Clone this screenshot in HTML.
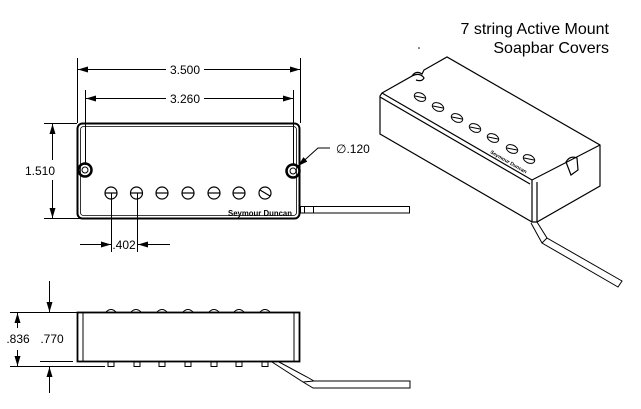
<!DOCTYPE html>
<html><head><meta charset="utf-8"><style>
html,body{margin:0;padding:0;background:#fff;}
svg{display:block;}
text{font-family:"Liberation Sans",Arial,sans-serif;fill:#000;}
</style></head><body>
<svg width="641" height="409" viewBox="0 0 641 409" xmlns="http://www.w3.org/2000/svg">
<defs>
<marker id="a" viewBox="0 0 10 6" refX="10" refY="3" markerWidth="10" markerHeight="6" orient="auto-start-reverse" markerUnits="userSpaceOnUse"><path d="M0,0 L10,3 L0,6 z" fill="#000"/></marker>
</defs>
<g stroke="#000" fill="none" stroke-width="1">
<rect x="77.5" y="123.5" width="222" height="95" rx="5" stroke-width="2"/>
<rect x="80.5" y="126.5" width="216" height="89" rx="3" stroke-width="0.8"/>
<line x1="77.5" y1="58" x2="77.5" y2="123"/>
<line x1="300.5" y1="58" x2="300.5" y2="123"/>
<line x1="78" y1="69.5" x2="168" y2="69.5" marker-start="url(#a)"/>
<line x1="202" y1="69.5" x2="300" y2="69.5" marker-end="url(#a)"/>
<line x1="85.5" y1="90" x2="85.5" y2="165"/>
<line x1="293.5" y1="90" x2="293.5" y2="165"/>
<line x1="86" y1="98.5" x2="168" y2="98.5" marker-start="url(#a)"/>
<line x1="202" y1="98.5" x2="293" y2="98.5" marker-end="url(#a)"/>
<line x1="44" y1="123.5" x2="77" y2="123.5"/>
<line x1="44" y1="218.5" x2="80" y2="218.5"/>
<line x1="52.5" y1="124" x2="52.5" y2="160" marker-start="url(#a)"/>
<line x1="52.5" y1="180" x2="52.5" y2="218" marker-end="url(#a)"/>
<circle cx="85" cy="170" r="6.5" stroke-width="2.5"/><circle cx="85" cy="170" r="3"/>
<circle cx="293" cy="171" r="6.5" stroke-width="2.5"/><circle cx="293" cy="171" r="3"/>
<polyline points="330,148 318,148 298,166" marker-end="url(#a)"/>
<g stroke-width="1.2">
<circle cx="111" cy="193" r="6"/><line x1="105" y1="193" x2="117" y2="193"/>
<circle cx="136.5" cy="193" r="6"/><line x1="130.5" y1="193" x2="142.5" y2="193"/>
<circle cx="162" cy="193" r="6"/><line x1="156" y1="193" x2="168" y2="193"/>
<circle cx="188" cy="193" r="6"/><line x1="182" y1="193" x2="194" y2="193"/>
<circle cx="214" cy="193" r="6"/><line x1="208" y1="193" x2="220" y2="193"/>
<circle cx="239" cy="193" r="6"/><line x1="233" y1="193" x2="245" y2="193"/>
<circle cx="265" cy="193" r="6"/><line x1="260" y1="190" x2="270" y2="196"/>
</g>
<line x1="111.5" y1="193" x2="111.5" y2="252"/>
<line x1="137.5" y1="193" x2="137.5" y2="252"/>
<line x1="80" y1="244.5" x2="111" y2="244.5" marker-end="url(#a)"/>
<line x1="170" y1="244.5" x2="138" y2="244.5" marker-end="url(#a)"/>
<rect x="300.5" y="206.5" width="109" height="6.5"/>
<line x1="304.5" y1="206.5" x2="304.5" y2="213"/>
<line x1="313.5" y1="206.5" x2="313.5" y2="213"/>

<rect x="77.5" y="312.5" width="222" height="49" stroke-width="1.8"/>
<line x1="83" y1="313" x2="83" y2="361"/>
<line x1="294" y1="313" x2="294" y2="361"/>
<g stroke-width="1">
<path d="M106,312 q5,-5 10,0"/><path d="M131,312 q5,-5 10,0"/><path d="M157,312 q5,-5 10,0"/><path d="M183,312 q5,-5 10,0"/><path d="M209,312 q5,-5 10,0"/><path d="M234,312 q5,-5 10,0"/><path d="M260,312 q5,-5 10,0"/>
<rect x="108" y="362" width="6" height="4.5"/><rect x="134" y="362" width="6" height="4.5"/><rect x="159" y="362" width="6" height="4.5"/><rect x="185" y="362" width="6" height="4.5"/><rect x="211" y="362" width="6" height="4.5"/><rect x="236" y="362" width="6" height="4.5"/><rect x="262" y="362" width="6" height="4.5"/>
</g>
<line x1="10" y1="312.5" x2="77" y2="312.5"/>
<line x1="10" y1="366.5" x2="105" y2="366.5"/>
<line x1="40" y1="361.5" x2="73" y2="361.5"/>
<line x1="17.5" y1="313" x2="17.5" y2="328" marker-start="url(#a)"/>
<line x1="17.5" y1="350" x2="17.5" y2="366" marker-end="url(#a)"/>
<line x1="49.5" y1="281" x2="49.5" y2="312" marker-end="url(#a)"/>
<line x1="49.5" y1="393" x2="49.5" y2="367" marker-end="url(#a)"/>
<path d="M272,362 L303,382 L313,388 L410,388 L410,381 L314,381 L307,377 L279,362"/>
<line x1="303" y1="382" x2="314" y2="381"/>

<g stroke-width="1.2">
<path d="M382,93 L412,76 Q416,70 422,74 L424,70 L447,57 L600,145 L600,186 L537,222 L532,222 L380,134 L380,96 Z" fill="#fff"/>
<path d="M382,93 L532,180 L600,145"/>
<path d="M380,97 L530,184"/>
<line x1="532" y1="180" x2="532" y2="222"/>
<line x1="537" y1="182" x2="537" y2="222"/>
<path d="M412,76 Q420,72 424,78 Q422,82 416,80"/>
<path d="M566,162 Q570,155 577,158 L578,170 L571,175 Z"/>
</g>
<g stroke-width="1">
<ellipse cx="420" cy="97" rx="6" ry="4" transform="rotate(25 420 97)"/><line x1="415" y1="96" x2="425" y2="98"/>
<ellipse cx="438" cy="107" rx="6" ry="4" transform="rotate(25 438 107)"/><line x1="433" y1="106" x2="443" y2="108"/>
<ellipse cx="457" cy="118" rx="6" ry="4" transform="rotate(25 457 118)"/><line x1="452" y1="117" x2="462" y2="119"/>
<ellipse cx="475" cy="128" rx="6" ry="4" transform="rotate(25 475 128)"/><line x1="470" y1="127" x2="480" y2="129"/>
<ellipse cx="493" cy="138" rx="6" ry="4" transform="rotate(25 493 138)"/><line x1="488" y1="137" x2="498" y2="139"/>
<ellipse cx="512" cy="149" rx="6" ry="4" transform="rotate(25 512 149)"/><line x1="507" y1="148" x2="517" y2="150"/>
<ellipse cx="529" cy="159" rx="6" ry="4" transform="rotate(25 529 159)"/><line x1="524" y1="158" x2="534" y2="160"/>
</g>
<path d="M531,223 L542,243 L618,287 L622,281 L547,238 L537,222"/>
<line x1="542" y1="243" x2="547" y2="238"/>
</g>
<text x="490" y="153" font-size="5" font-weight="bold" font-family="Liberation Serif" transform="rotate(30 490 153)">Seymour Duncan</text>
<g font-size="12">
<rect x="166" y="62" width="38" height="14" fill="#fff"/>
<text x="185" y="74" text-anchor="middle">3.500</text>
<rect x="166" y="91" width="38" height="14" fill="#fff"/>
<text x="185" y="103" text-anchor="middle">3.260</text>
<text x="40" y="175" text-anchor="middle">1.510</text>
<text x="336" y="153">∅.120</text>
<text x="124" y="249" text-anchor="middle">.402</text>
<text x="18" y="343" text-anchor="middle">.836</text>
<text x="52" y="343" text-anchor="middle">.770</text>
</g>
<text x="228" y="216" font-size="8" font-weight="bold" font-family="Liberation Serif,serif" textLength="64" lengthAdjust="spacingAndGlyphs">Seymour Duncan</text>
<text x="609" y="34" font-size="16" text-anchor="end" fill="#333">7 string Active Mount</text>
<text x="609" y="53" font-size="16" text-anchor="end" fill="#333">Soapbar Covers</text>
<circle cx="419" cy="48" r="0.8" fill="#000"/>
</svg>
</body></html>
